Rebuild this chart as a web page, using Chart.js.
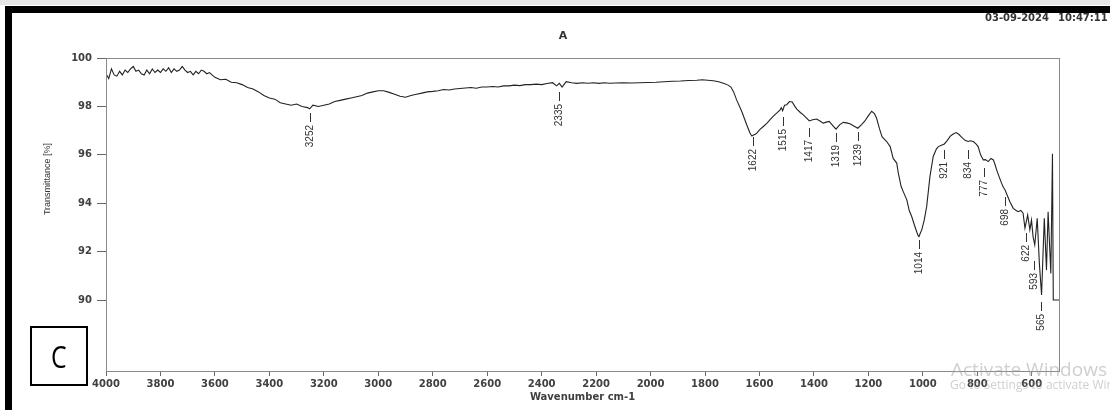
<!DOCTYPE html>
<html>
<head>
<meta charset="utf-8">
<title>FTIR spectrum</title>
<script src="https://cdn.jsdelivr.net/npm/chart.js@4.4.1/dist/chart.umd.min.js"></script>
<style>
  html, body { margin: 0; padding: 0; background: #fff; }
  #wrap { position: relative; width: 1110px; height: 410px; overflow: hidden; background: #fff; }
  #chart { position: absolute; left: 0; top: 0; }
  .band { position: absolute; left: 0; top: 0; width: 1110px; height: 5px; background: #e6e6e6; }
  .frame { position: absolute; left: 5px; top: 6px; width: 1300px; height: 600px; border: 7px solid #000; box-sizing: border-box; pointer-events: none; }
  .title { position: absolute; left: 553px; top: 29px; width: 20px; text-align: center; font: bold 11px "DejaVu Sans", sans-serif; color: #333; }
  .stamp { position: absolute; top: 12px; font: bold 10px "DejaVu Sans", sans-serif; color: #333; white-space: nowrap; }
  .ytitle { position: absolute; left: 47px; top: 179px; transform: translate(-50%, -50%) rotate(-90deg); font: 9px "Liberation Sans", Arial, sans-serif; color: #333; white-space: nowrap; }
  .cbox { position: absolute; left: 30px; top: 326px; width: 58px; height: 60px; border: 2px solid #000; box-sizing: border-box; background: #fff; text-align: center; }
  .cbox span { display: inline-block; font: 31px "Open Sans", sans-serif; line-height: 56px; transform: scaleX(0.8); }
  .wm1 { position: absolute; left: 951px; top: 356px; font: 19px "Open Sans", sans-serif; color: rgba(160,160,160,0.5); white-space: nowrap; }
  .wm2 { position: absolute; left: 950px; top: 376px; font: 12px "Open Sans", sans-serif; color: rgba(160,160,160,0.5); white-space: nowrap; }
</style>
</head>
<body>
<div id="wrap">
  <canvas id="chart" width="1110" height="410"></canvas>
  <div class="band"></div>
  <div class="frame"></div>
  <div class="title">A</div>
  <div class="stamp" style="left:985px">03-09-2024</div>
  <div class="stamp" style="left:1058px">10:47:11</div>
  <div class="ytitle">Transmittance [%]</div>
  <div class="cbox"><span>C</span></div>
  <div class="wm1">Activate Windows</div>
  <div class="wm2">Go to Settings to activate Windows.</div>
</div>
<script>
// spectrum (wavenumber cm-1 -> transmittance %)
const wavenumbers = [
  4000,3990,3980,3970,3960,3950,3940,3930,3920,3910,3900,3890,3880,3870,3860,3850,3840,3830,3820,3810,
  3800,3790,3780,3770,3760,3750,3740,3730,3720,3710,3700,3690,3680,3670,3660,3650,3640,3630,3620,
  3600,3580,3560,3540,3520,3500,3480,3460,3440,3420,3400,3380,3360,3340,3320,3300,3280,3260,3252,3240,
  3220,3200,3180,3160,3140,3120,3100,3080,3060,3040,3020,3000,2980,2960,2940,2920,2900,2880,2860,2840,
  2820,2800,2780,2760,2740,2720,2700,2680,2660,2640,2620,2600,2580,2560,2540,2520,2500,2480,2460,2440,
  2420,2400,2380,2360,2345,2335,2325,2310,2290,2270,2250,2230,2210,2190,2170,2150,2130,2100,2070,2040,
  2010,1980,1950,1920,1890,1860,1830,1810,1790,1770,1750,1730,1715,1705,1695,1684,1665,1647,1635,1628,
  1622,1615,1610,1598,1586,1573,1561,1549,1537,1525,1520,1515,1508,1500,1490,1480,1470,1463,1450,1439,
  1425,1417,1405,1390,1378,1366,1355,1344,1330,1319,1305,1292,1280,1268,1255,1239,1225,1213,1200,1188,
  1178,1170,1160,1150,1145,1133,1120,1109,1096,1090,1080,1072,1059,1050,1041,1029,1022,1017,1014,1010,
  1004,995,986,974,962,950,943,932,921,910,900,890,878,868,858,845,834,825,815,805,
  797,788,778,770,760,750,741,735,729,720,711,704,698,688,680,668,660,650,640,632,
  625,615,607,601,595,589,580,572,564,554,546,540,530,524,521,500
];
const transmittance = [
  99.35,99.15,99.55,99.3,99.25,99.45,99.3,99.5,99.4,99.55,99.65,99.45,99.5,99.35,99.3,99.5,99.35,99.55,99.4,99.5,
  99.4,99.55,99.45,99.6,99.4,99.55,99.45,99.5,99.65,99.5,99.4,99.45,99.3,99.45,99.35,99.5,99.45,99.35,99.4,
  99.2,99.1,99.12,99.0,98.98,98.9,98.78,98.72,98.6,98.45,98.35,98.3,98.15,98.1,98.05,98.1,98.0,97.95,97.9,98.05,
  98.0,98.05,98.1,98.2,98.25,98.3,98.35,98.4,98.45,98.55,98.6,98.65,98.65,98.58,98.5,98.42,98.38,98.45,98.5,98.55,
  98.6,98.62,98.65,98.7,98.68,98.72,98.74,98.76,98.78,98.75,98.8,98.8,98.82,98.8,98.85,98.85,98.88,98.86,98.9,98.9,
  98.92,98.9,98.95,98.98,98.85,98.95,98.8,99.02,98.98,98.95,98.98,98.96,98.98,98.95,98.98,98.96,98.97,98.98,98.97,98.98,
  98.99,99.0,99.02,99.04,99.05,99.07,99.08,99.1,99.08,99.06,99.02,98.95,98.88,98.8,98.6,98.27,97.79,97.24,96.9,96.78,
  96.82,96.85,96.9,97.05,97.17,97.3,97.45,97.6,97.72,97.85,97.95,97.82,98.05,98.07,98.2,98.18,98.0,97.89,97.75,97.65,
  97.5,97.4,97.45,97.48,97.4,97.31,97.35,97.38,97.2,97.06,97.25,97.34,97.32,97.28,97.2,97.1,97.25,97.4,97.62,97.8,
  97.7,97.52,97.1,96.75,96.69,96.55,96.34,95.85,95.66,95.24,94.7,94.48,94.14,93.7,93.45,93.03,92.8,92.65,92.62,92.75,
  92.9,93.3,93.86,95.1,95.93,96.25,96.34,96.4,96.45,96.6,96.76,96.85,96.92,96.85,96.73,96.6,96.55,96.58,96.55,96.45,
  96.34,96.0,95.79,95.8,95.72,95.85,95.79,95.6,95.38,95.1,94.83,94.65,94.55,94.27,94.05,93.79,93.72,93.65,93.7,93.59,
  92.97,93.52,92.9,93.31,92.6,92.28,93.38,91.5,90.21,93.38,91.24,93.65,91.1,96.04,90.0,90.0
];

// labelled peaks and the transmittance where each marker starts
const peakWn = [3252, 2335, 1622, 1515, 1417, 1319, 1239, 1014, 921, 834, 777, 698, 622, 593, 565];
const peakMarkTop = [97.74, 98.61, 96.74, 97.57, 97.12, 96.91, 96.95, 92.48, 96.21, 96.21, 95.46, 94.26, 92.77, 91.6, 89.91];

const xTicks = [4000,3800,3600,3400,3200,3000,2800,2600,2400,2200,2000,1800,1600,1400,1200,1000,800,600];
const yTicks = [90, 92, 94, 96, 98, 100];

const points = wavenumbers.map((w, i) => ({ x: w, y: transmittance[i] }));

// box around the plot area
const plotFrame = {
  id: 'plotFrame',
  afterDraw(c){
    const a = c.chartArea, ctx = c.ctx;
    ctx.save();
    ctx.strokeStyle = '#8a8a8a'; ctx.lineWidth = 1;
    ctx.strokeRect(Math.round(a.left)+0.5, Math.round(a.top)+0.5, Math.round(a.right-a.left), Math.round(a.bottom-a.top));
    ctx.restore();
  }
};

// peak markers: short tick + rotated wavenumber
const peakMarks = {
  id: 'peakMarks',
  afterDatasetsDraw(c){
    const ctx = c.ctx, x = c.scales.x, y = c.scales.y;
    ctx.save();
    ctx.strokeStyle = '#333'; ctx.fillStyle = '#333'; ctx.lineWidth = 1;
    ctx.font = '10px "Liberation Sans", Arial, sans-serif';
    peakWn.forEach((w, i) => {
      const px = Math.round(x.getPixelForValue(w)) + 0.5;
      const py = Math.round(y.getPixelForValue(peakMarkTop[i]));
      ctx.beginPath(); ctx.moveTo(px, py); ctx.lineTo(px, py + 9); ctx.stroke();
      ctx.save();
      ctx.translate(px, py + 12);
      ctx.rotate(-Math.PI / 2);
      ctx.textAlign = 'right'; ctx.textBaseline = 'middle';
      ctx.fillText(String(w), 0, 0);
      ctx.restore();
    });
    ctx.restore();
  }
};

const tickFont = { family: 'DejaVu Sans', size: 10, weight: 'bold' };

new Chart(document.getElementById('chart').getContext('2d'), {
  type: 'line',
  data: { datasets: [{ data: points, borderColor: '#222', borderWidth: 1.1, pointRadius: 0, tension: 0, fill: false }] },
  options: {
    responsive: false,
    animation: false,
    parsing: false,
    layout: { padding: { top: 58, right: 51, left: 0, bottom: 0 } },
    plugins: { legend: { display: false }, tooltip: { enabled: false } },
    scales: {
      x: {
        type: 'linear', reverse: true, min: 500, max: 4000,
        afterBuildTicks: s => { s.ticks = xTicks.map(v => ({ value: v })); },
        afterFit: s => { s.height = 39; },
        grid: { drawOnChartArea: false, drawTicks: true, tickLength: 5, color: '#666' },
        border: { display: false },
        ticks: { font: tickFont, color: '#404040', padding: 2, maxRotation: 0, autoSkip: false, callback: v => String(v) },
        title: { display: true, text: 'Wavenumber cm-1', font: tickFont, color: '#404040', padding: { top: 0, bottom: 7 } }
      },
      y: {
        type: 'linear', min: 87.07, max: 100,
        afterBuildTicks: s => { s.ticks = yTicks.map(v => ({ value: v })); },
        afterFit: s => { s.width = 106; },
        grid: { drawOnChartArea: false, drawTicks: true, tickLength: 9, color: '#666' },
        border: { display: false },
        ticks: { font: tickFont, color: '#404040', padding: 5, callback: v => String(v) }
      }
    }
  },
  plugins: [plotFrame, peakMarks]
});
</script>
</body>
</html>
